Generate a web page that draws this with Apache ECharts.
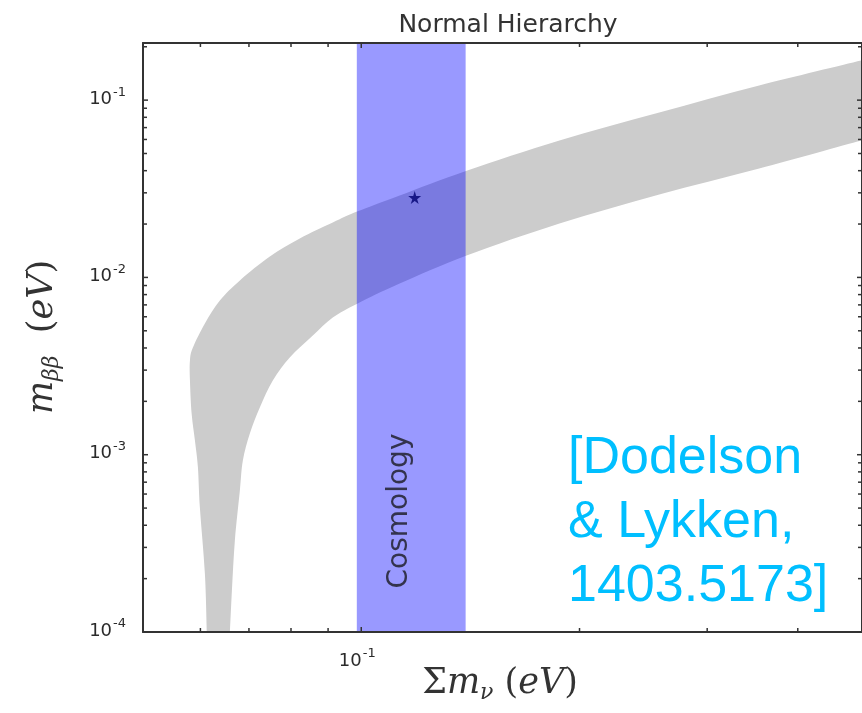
<!DOCTYPE html>
<html><head><meta charset="utf-8">
<script src="https://cdn.jsdelivr.net/npm/echarts@6/dist/echarts.min.js"></script>
<style>html,body{margin:0;padding:0;background:#fff}#c{width:862px;height:713px}</style>
</head><body><div id="c"></div>
<script>
// ---- axis ranges ----
const X_MIN = 0.05, X_MAX = 0.4905;
const Y_MIN = 1e-4, Y_MAX = 0.21;

// ---- gray band (allowed region, normal hierarchy) ----
// outer / upper-left edge, from bottom to upper right
const bandOuterSum = [0.06124, 0.06086, 0.05990, 0.05953, 0.05897, 0.05835, 0.05804, 0.05804, 0.05859, 0.06086, 0.06382, 0.06801, 0.07480, 0.08227, 0.09135, 0.09888, 0.11297, 0.13975, 0.18765, 0.25768, 0.35385, 0.4890];
const bandOuterM   = [1.0e-4, 2.14e-4, 5.04e-4, 8.47e-4, 1.20e-3, 1.71e-3, 2.62e-3, 3.40e-3, 4.02e-3, 5.50e-3, 7.41e-3, 9.61e-3, 0.01312, 0.01658, 0.0204, 0.0236, 0.0290, 0.0400, 0.0592, 0.0851, 0.1209, 0.1673];
// inner / lower-right edge, from bottom to upper right
const bandInnerSum = [0.06589, 0.06631, 0.06694, 0.06801, 0.06866, 0.07020, 0.07246, 0.07551, 0.07969, 0.08574, 0.09135, 0.09888, 0.11297, 0.13975, 0.18765, 0.25768, 0.35385, 0.4890];
const bandInnerM   = [1.0e-4, 1.71e-4, 3.28e-4, 6.28e-4, 9.27e-4, 1.318e-3, 1.846e-3, 2.62e-3, 3.53e-3, 4.70e-3, 5.94e-3, 7.13e-3, 9.24e-3, 0.01329, 0.02014, 0.02935, 0.04113, 0.0592];

// ---- cosmology band ----
const cosmologyRange = [0.0986, 0.1393];

// ---- star point ----
const starSum = [0.1185];
const starM = [0.0282];

// ---- ticks ----
const xMajorTicks = [0.1];
const xTickExponents = ['-1'];
const xMinorTicks = [0.06, 0.07, 0.08, 0.09, 0.2, 0.3, 0.4];
const yMajorTicks = [1e-4, 1e-3, 1e-2, 1e-1];
const yTickExponents = ['-4', '-3', '-2', '-1'];
const yMinorMantissas = [2, 3, 4, 5, 6, 7, 8, 9];
const yMinorTicks = [];
yMajorTicks.forEach(d => yMinorMantissas.forEach(k => { const v = +(k * d).toPrecision(3); if (v <= Y_MAX) yMinorTicks.push(v); }));

const TICK_COLOR = '#333';
const LABEL_FONT = 'DejaVu Sans';
const tickRich = {
  b: {fontFamily: LABEL_FONT, fontSize: 18, lineHeight: 22, fill: '#2a2a2a'},
  p: {fontFamily: LABEL_FONT, fontSize: 13, lineHeight: 14, fill: '#2a2a2a', padding: [0, 0, 14, 1]}
};

const chart = echarts.init(document.getElementById('c'), null, {renderer: 'canvas'});

function clipOf(cs) { return {type: 'rect', shape: {x: cs.x, y: cs.y, width: cs.width, height: cs.height}}; }

// smooth (Catmull-Rom) path through pixel points
function smoothSegs(pts) {
  let d = '';
  const n = pts.length;
  for (let i = 0; i < n - 1; i++) {
    const p0 = pts[Math.max(0, i - 1)], p1 = pts[i], p2 = pts[i + 1], p3 = pts[Math.min(n - 1, i + 2)];
    const c1 = [p1[0] + (p2[0] - p0[0]) / 6, p1[1] + (p2[1] - p0[1]) / 6];
    const c2 = [p2[0] - (p3[0] - p1[0]) / 6, p2[1] - (p3[1] - p1[1]) / 6];
    d += ' C' + c1[0].toFixed(2) + ',' + c1[1].toFixed(2) + ' ' + c2[0].toFixed(2) + ',' + c2[1].toFixed(2) + ' ' + p2[0].toFixed(2) + ',' + p2[1].toFixed(2);
  }
  return d;
}

const xTickData = xMajorTicks.map(v => [v, Y_MIN, 1]).concat(xMinorTicks.map(v => [v, Y_MIN, 0]));
const yTickData = yMajorTicks.map(v => [X_MIN, v, 1]).concat(yMinorTicks.map(v => [X_MIN, v, 0]));

const axisCommon = {
  type: 'log', logBase: 10,
  axisLine: {show: true, lineStyle: {color: '#333', width: 2}},
  axisTick: {show: false}, axisLabel: {show: false},
  splitLine: {show: false}, minorTick: {show: false}, z: 10
};

const mathRich = {
  u: {fontFamily: 'DejaVu Serif', fontSize: 35, fill: '#333', lineHeight: 40},
  i: {fontFamily: 'DejaVu Serif', fontStyle: 'italic', fontSize: 35, fill: '#333', lineHeight: 40},
  s: {fontFamily: 'DejaVu Serif', fontStyle: 'italic', fontSize: 22, fill: '#333', lineHeight: 40, padding: [19, 0, 0, 0]}
};

chart.setOption({
  animation: false,
  backgroundColor: '#fff',
  grid: {left: 143, right: -1, top: 43, bottom: 81, containLabel: false},
  xAxis: [
    Object.assign({}, axisCommon, {min: X_MIN, max: X_MAX, position: 'bottom'}),
    Object.assign({}, axisCommon, {min: X_MIN, max: X_MAX, position: 'top'})
  ],
  yAxis: [
    Object.assign({}, axisCommon, {min: Y_MIN, max: Y_MAX, position: 'left'}),
    Object.assign({}, axisCommon, {min: Y_MIN, max: Y_MAX, position: 'right'})
  ],
  series: [
    {
      type: 'custom', name: 'band', z: 1, silent: true,
      data: [[X_MIN, Y_MIN]],
      renderItem: function (params, api) {
        const outer = bandOuterSum.map((s, i) => api.coord([s, bandOuterM[i]]));
        const inner = bandInnerSum.map((s, i) => api.coord([s, bandInnerM[i]])).reverse();
        const d = 'M' + outer[0][0] + ',' + outer[0][1] + smoothSegs(outer) +
                  ' L' + inner[0][0] + ',' + inner[0][1] + smoothSegs(inner) + ' Z';
        return {type: 'path', shape: {pathData: d}, style: {fill: '#cccccc'}, clipPath: clipOf(params.coordSys)};
      }
    },
    {
      type: 'custom', name: 'cosmology', z: 2, silent: true,
      data: [[cosmologyRange[0], Y_MIN]],
      renderItem: function (params, api) {
        const cs = params.coordSys;
        const a = api.coord([cosmologyRange[0], Y_MIN]);
        const b = api.coord([cosmologyRange[1], Y_MAX]);
        return {type: 'rect', shape: {x: a[0], y: cs.y, width: b[0] - a[0], height: cs.height}, style: {fill: 'rgba(0,0,255,0.4)'}};
      }
    },
    {
      type: 'scatter', name: 'best', z: 5, silent: true,
      symbol: 'path://M50,0 L61,35 L98,35 L68,57 L79,91 L50,70 L21,91 L32,57 L2,35 L39,35 Z',
      symbolSize: 13,
      itemStyle: {color: '#000070'},
      data: starSum.map((s, i) => [s, starM[i]])
    },
    {
      type: 'custom', name: 'xticks', z: 11, silent: true, clip: false,
      data: xTickData,
      renderItem: function (params, api) {
        const cs = params.coordSys;
        const p = api.coord([api.value(0), Y_MIN]);
        const major = api.value(2) === 1;
        const len = major ? 5 : 4;
        const bottom = cs.y + cs.height;
        const children = [
          {type: 'line', shape: {x1: p[0], y1: bottom, x2: p[0], y2: bottom - len}, style: {stroke: TICK_COLOR, lineWidth: 1.5}},
          {type: 'line', shape: {x1: p[0], y1: cs.y, x2: p[0], y2: cs.y + len}, style: {stroke: TICK_COLOR, lineWidth: 1.5}}
        ];
        if (major) {
          children.push({type: 'text', x: p[0] - 4, y: bottom + 29,
            style: {text: '{b|10}{p|' + xTickExponents[params.dataIndex] + '}', rich: tickRich, align: 'center', verticalAlign: 'middle'}});
        }
        return {type: 'group', children: children};
      }
    },
    {
      type: 'custom', name: 'yticks', z: 11, silent: true, clip: false,
      data: yTickData,
      renderItem: function (params, api) {
        const cs = params.coordSys;
        const p = api.coord([X_MIN, api.value(1)]);
        const major = api.value(2) === 1;
        const len = major ? 5 : 4;
        const right = cs.x + cs.width;
        const children = [
          {type: 'line', shape: {x1: cs.x, y1: p[1], x2: cs.x + len, y2: p[1]}, style: {stroke: TICK_COLOR, lineWidth: 1.5}},
          {type: 'line', shape: {x1: right, y1: p[1], x2: right - len, y2: p[1]}, style: {stroke: TICK_COLOR, lineWidth: 1.5}}
        ];
        if (major) {
          children.push({type: 'text', x: cs.x - 17, y: p[1] - 1,
            style: {text: '{b|10}{p|' + yTickExponents[params.dataIndex] + '}', rich: tickRich, align: 'right', verticalAlign: 'middle'}});
        }
        return {type: 'group', children: children};
      }
    }
  ],
  graphic: [
    {type: 'text', x: 508, y: 25, z: 20,
      style: {text: 'Normal Hierarchy', fill: '#333', fontSize: 25, fontFamily: LABEL_FONT, align: 'center', verticalAlign: 'middle'}},
    {type: 'text', x: 400, y: 511, rotation: Math.PI / 2, z: 20,
      style: {text: 'Cosmology', fill: '#33334d', fontSize: 28, fontFamily: LABEL_FONT, align: 'center', verticalAlign: 'middle'}},
    {type: 'text', x: 568, y: 427, z: 20,
      style: {text: '[Dodelson\n& Lykken,\n1403.5173]', fill: '#00BFFF', fontSize: 52, lineHeight: 64, fontFamily: 'Liberation Sans', align: 'left', verticalAlign: 'top'}},
    {type: 'text', x: 500, y: 684, z: 20,
      style: {text: '{u|Σ}{i|m}{s|ν}{u| (}{i|eV}{u|)}', align: 'center', verticalAlign: 'middle', rich: mathRich}},
    {type: 'text', x: 43, y: 337, rotation: Math.PI / 2, z: 20,
      style: {text: '{i|m}{s|ββ}{u|  (}{i|eV}{u|)}', align: 'center', verticalAlign: 'middle', rich: mathRich}}
  ]
});
</script></body></html>
